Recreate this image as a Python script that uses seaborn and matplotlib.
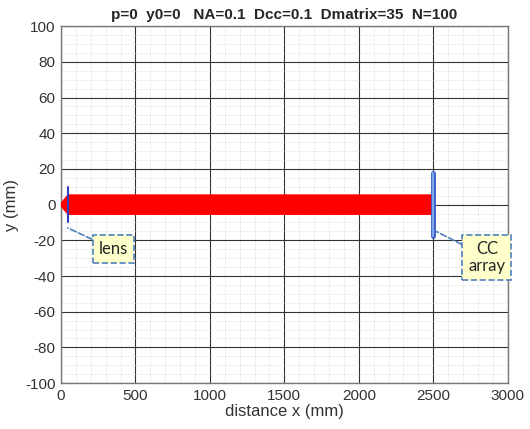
import numpy as np
import pandas as pd
import matplotlib
matplotlib.use("Agg")
import matplotlib.pyplot as plt
import seaborn as sns
from matplotlib.ticker import MultipleLocator

# Parametreler / veri
title_text = "p=0  y0=0   NA=0.1  Dcc=0.1  Dmatrix=35  N=100"
beam_x = [0, 50, 2500, 2500, 50]
beam_y = [0, 5, 5, -5, -5]
lens_x = [50, 50]
lens_y = [-10, 10]
cc_x = [2500, 2500]
cc_y = [-17.5, 17.5]
x_ticks = [0, 500, 1000, 1500, 2000, 2500, 3000]
y_ticks = [-100, -80, -60, -40, -20, 0, 20, 40, 60, 80, 100]

sns.set_style("white")
plt.rcParams['font.family'] = ['Liberation Sans', 'DejaVu Sans']
plt.rcParams['axes.unicode_minus'] = False

fig = plt.figure(figsize=(5.30, 4.29), dpi=100)
ax = fig.add_axes([0.115, 0.107, 0.843, 0.832])

# Izgara
ax.xaxis.set_minor_locator(MultipleLocator(100))
ax.yaxis.set_minor_locator(MultipleLocator(5))
ax.grid(which='major', color='#333333', linewidth=0.8, linestyle='-')
ax.grid(which='minor', color='#c8c8c8', linewidth=0.5, linestyle=':')
ax.set_axisbelow(True)

# Işın demeti
ax.fill(beam_x, beam_y, color='red', linewidth=2, edgecolor='red', zorder=3)

# Mercek ve CC dizisi
lines = pd.DataFrame({
    'x': lens_x + cc_x,
    'y': lens_y + cc_y,
    'eleman': ['lens', 'lens', 'cc', 'cc'],
})
sns.lineplot(data=lines[lines.eleman == 'lens'], x='x', y='y', color='#2f3fbf',
             linewidth=1.5, estimator=None, sort=False, ax=ax, zorder=4)
sns.lineplot(data=lines[lines.eleman == 'cc'], x='x', y='y', color='#3a5fc8',
             linewidth=3.5, estimator=None, sort=False, ax=ax, zorder=4)
ax.plot(cc_x, cc_y, color='#7fa6ea', linewidth=1.5, zorder=5)

# Etiketler
box = dict(boxstyle='square,pad=0.35', fc='#ffffcc', ec='#4f81bd', ls='--', lw=1.2)
arrow = dict(arrowstyle='-', ls='--', color='#4f81bd', lw=1.2, shrinkA=0, shrinkB=0)
ax.annotate('lens', xy=(45, -13), xytext=(350, -25), ha='center', va='center',
            fontsize=12, family='Lato', bbox=box, arrowprops=arrow, zorder=6)
ax.annotate('CC\narray', xy=(2520, -15), xytext=(2860, -29.5), ha='center', va='center',
            fontsize=12, family='Lato', bbox=box, arrowprops=arrow, zorder=6,
            annotation_clip=False, linespacing=1.1)

ax.set_xlim(0, 3000)
ax.set_ylim(-100, 100)
ax.set_xticks(x_ticks)
ax.set_yticks(y_ticks)
ax.tick_params(axis='both', which='both', length=0, labelsize=11, colors='#333333', pad=4)
ax.set_xlabel('distance x (mm)', fontsize=12, color='#333333', labelpad=1)
ax.set_ylabel('y (mm)', fontsize=12, color='#333333', labelpad=4)
ax.set_title(title_text, fontsize=11, fontweight='bold', pad=5)
for s in ax.spines.values():
    s.set_color('#777777')
    s.set_linewidth(1.0)

fig.savefig('out.png', dpi=100)
